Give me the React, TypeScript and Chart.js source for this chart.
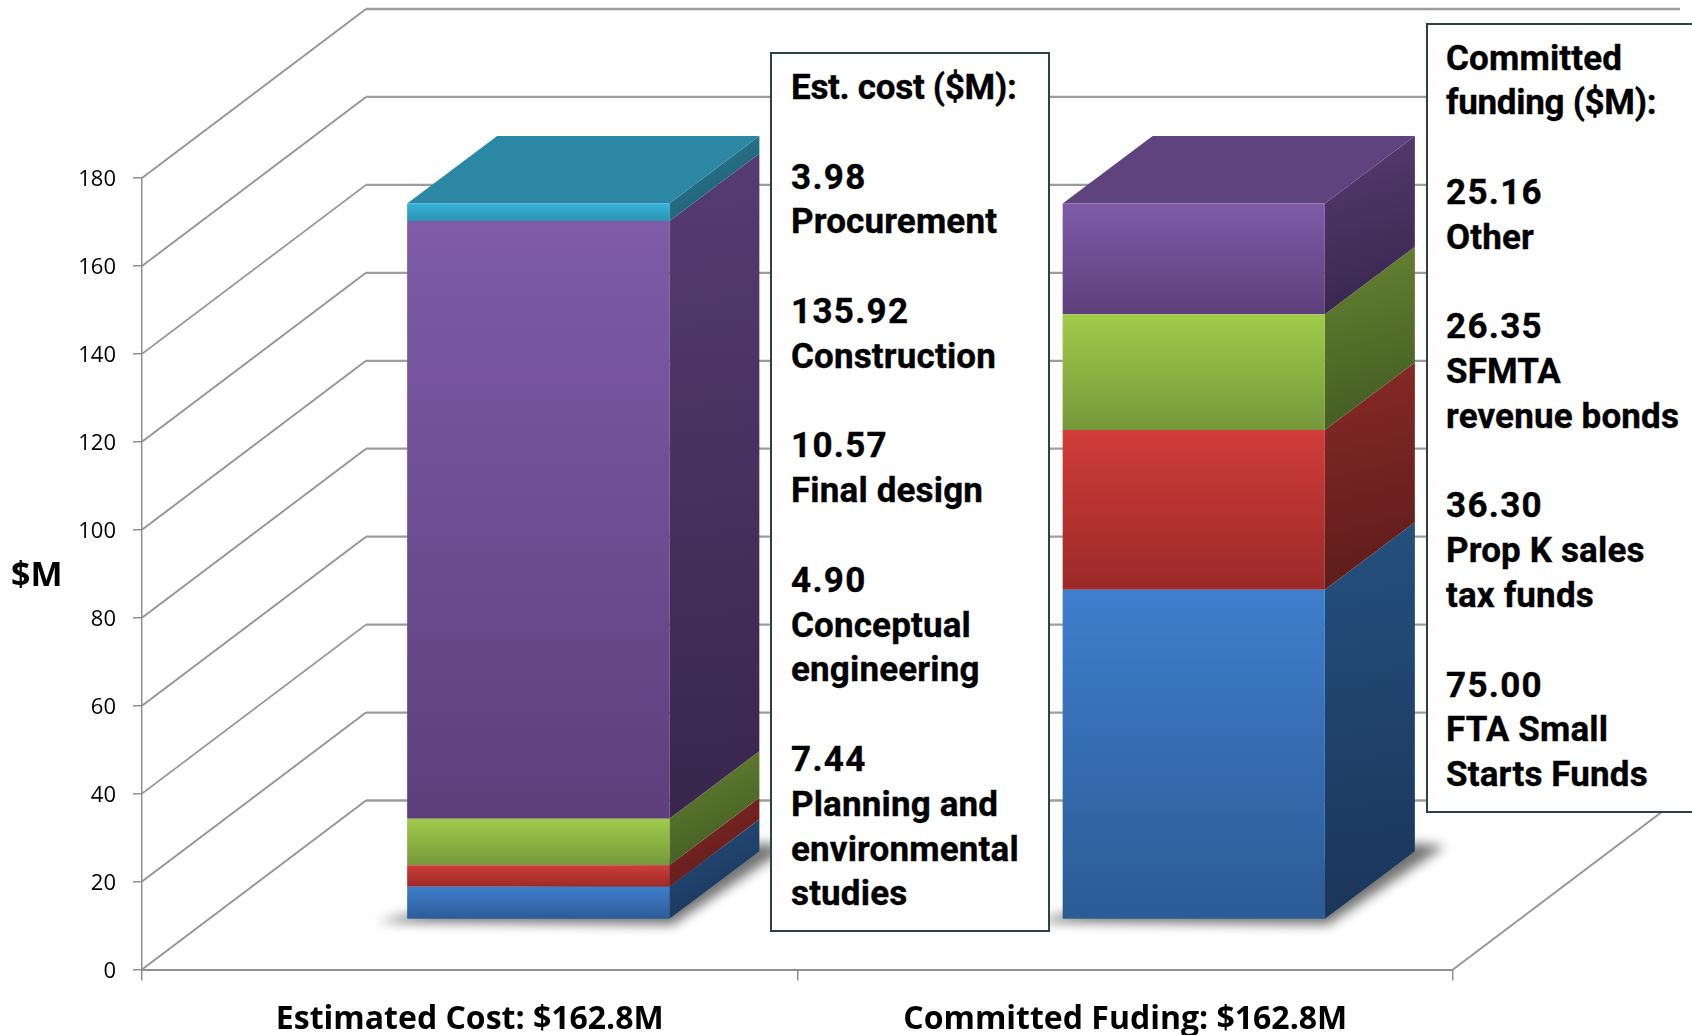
import React, { useEffect, useRef } from "react";
import { Chart, registerables } from "chart.js";

Chart.register(...registerables);

const categories = ["Estimated Cost: $162.8M", "Committed Fuding: $162.8M"];
const tickValues = [0, 20, 40, 60, 80, 100, 120, 140, 160, 180];
const yAxisLabel = "$M";

const band1Values = [7.44, 75.0];
const band2Values = [4.9, 36.3];
const band3Values = [10.57, 26.35];
const band4Values = [135.92, 25.16];
const band5Values = [3.98, 0];

const costLabels = ["Planning and\nenvironmental\nstudies", "Conceptual\nengineering", "Final design", "Construction", "Procurement"];
const fundingLabels = ["FTA Small\nStarts Funds", "Prop K sales\ntax funds", "SFMTA\nrevenue bonds", "Other"];

const bands = [band1Values, band2Values, band3Values, band4Values, band5Values];

const frontTop = ["#3e7ecd", "#d03c39", "#a0cb4a", "#7f5ba8", "#36b4d9"];
const frontBottom = ["#2c5b95", "#9b2a29", "#76983a", "#5e3f7c", "#2a93b1"];
const sideTop = ["#25507f", "#882a28", "#678432", "#553c72", "#2b7f99"];
const sideBottom = ["#1a3559", "#5c1c1a", "#425a22", "#38264c", "#1f5c70"];
const topFace = ["#2b5d95", "#a03230", "#769a3a", "#5e437e", "#2b87a3"];

const WALL = { x: 224, y: -169 };
const BAR_SHIFT = { x: 68.5, y: -50 };
const BAR_DEPTH = { x: 90, y: -67.5 };
const WALL_RIGHT = 1680;

function poly(ctx: CanvasRenderingContext2D, pts: number[][]) {
  ctx.beginPath();
  pts.forEach((p, i) => (i ? ctx.lineTo(p[0], p[1]) : ctx.moveTo(p[0], p[1])));
  ctx.closePath();
}

function grad(ctx: CanvasRenderingContext2D, x0: number, y0: number, x1: number, y1: number, a: string, b: string) {
  if (![x0, y0, x1, y1].every(Number.isFinite)) return a;
  const g = ctx.createLinearGradient(x0, y0, x1, y1);
  g.addColorStop(0, a);
  g.addColorStop(1, b);
  return g;
}

const box3d = {
  id: "box3d",
  beforeDatasetsDraw(chart: any) {
    const { ctx, scales, chartArea } = chart;
    const y = scales.y;
    const { left, right, bottom } = chartArea;
    ctx.save();
    ctx.lineCap = "butt";
    tickValues.forEach((v) => {
      const py = y.getPixelForValue(v);
      ctx.strokeStyle = "#939393";
      ctx.lineWidth = 1.8;
      ctx.beginPath();
      ctx.moveTo(left, py);
      ctx.lineTo(left + WALL.x, py + WALL.y);
      ctx.stroke();
      ctx.strokeStyle = "#9c9c9c";
      ctx.lineWidth = 2.3;
      ctx.beginPath();
      ctx.moveTo(left + WALL.x, py + WALL.y);
      ctx.lineTo(WALL_RIGHT, py + WALL.y);
      ctx.stroke();
    });
    ctx.strokeStyle = "#939393";
    ctx.lineWidth = 1.8;
    ctx.beginPath();
    ctx.moveTo(right, bottom);
    ctx.lineTo(right + WALL.x, bottom + WALL.y);
    ctx.stroke();
    ctx.restore();

    ctx.save();
    ctx.translate(BAR_SHIFT.x, BAR_SHIFT.y);
    const metas = bands.map((_, i) => chart.getDatasetMeta(i));
    categories.forEach((_, c) => {
      const first = metas[0].data[c];
      const xl = first.x - first.width / 2;
      const xr = first.x + first.width / 2;
      const y0 = first.base;
      // soft shadow on the floor
      ctx.save();
      ctx.filter = "blur(6px)";
      ctx.fillStyle = "rgba(0,0,0,0.55)";
      poly(ctx, [
        [xl - 30, y0 + 3],
        [xr + 3, y0 + 6],
        [xr + BAR_DEPTH.x + 30, y0 + BAR_DEPTH.y - 5],
        [xr + BAR_DEPTH.x, y0 + BAR_DEPTH.y - 8],
        [xl, y0 - 4],
      ]);
      ctx.fill();
      ctx.restore();

      let topIdx = 0;
      metas.forEach((m, i) => {
        const el = m.data[c];
        if (Math.abs(el.base - el.y) < 0.5) return;
        topIdx = i;
        ctx.fillStyle = grad(ctx, xr, el.y + BAR_DEPTH.y, xr + BAR_DEPTH.x * 0.6, el.base, sideTop[i], sideBottom[i]);
        poly(ctx, [
          [xr, el.y],
          [xr + BAR_DEPTH.x, el.y + BAR_DEPTH.y],
          [xr + BAR_DEPTH.x, el.base + BAR_DEPTH.y],
          [xr, el.base],
        ]);
        ctx.fill();
      });
      const t = metas[topIdx].data[c];
      ctx.fillStyle = topFace[topIdx];
      poly(ctx, [
        [xl, t.y],
        [xr, t.y],
        [xr + BAR_DEPTH.x, t.y + BAR_DEPTH.y],
        [xl + BAR_DEPTH.x, t.y + BAR_DEPTH.y],
      ]);
      ctx.fill();
    });
  },
  afterDatasetsDraw(chart: any) {
    chart.ctx.restore();
  },
  afterDraw(chart: any) {
    const { ctx, scales } = chart;
    ctx.save();
    ctx.fillStyle = "#000";
    ctx.font = "bold 34px 'Open Sans'";
    ctx.textAlign = "left";
    ctx.textBaseline = "middle";
    ctx.fillText(yAxisLabel, 11, scales.y.getPixelForValue(90) + 3);
    ctx.restore();
  },
};

function frontGradient(context: any, i: number) {
  const chart = context.chart;
  const y = chart.scales.y;
  if (!y || context.dataIndex === undefined) return frontTop[i];
  let lo = 0;
  for (let k = 0; k < i; k++) lo += bands[k][context.dataIndex];
  const hi = lo + bands[i][context.dataIndex];
  return grad(chart.ctx, 0, y.getPixelForValue(hi), 0, y.getPixelForValue(lo), frontTop[i], frontBottom[i]);
}

const noteText = {
  fontFamily: "Roboto, sans-serif",
  fontWeight: 700,
  fontSize: 35,
  lineHeight: "44.8px",
  color: "#000",
  WebkitTextStroke: "0.35px #000",
};

function costNote() {
  const rows = costLabels.map((l, i) => `${bands[i][0].toFixed(2)}\n${l}`).reverse();
  return ["Est. cost ($M):", ...rows].join("\n\n");
}

function fundingNote() {
  const rows = fundingLabels.map((l, i) => `${bands[i][1].toFixed(2)}\n${l}`).reverse();
  return ["Committed\nfunding ($M):", ...rows].join("\n\n");
}

function spacingFor(line: string) {
  if (/^\d/.test(line)) return "1.3px";
  if (line.endsWith(":")) return "-0.3px";
  return "0.15px";
}

function NoteLines({ text }: { text: string }) {
  return (
    <>
      {text.split("\n").map((line, i) => (
        <div key={i} style={{ height: 44.8, whiteSpace: "pre", letterSpacing: spacingFor(line) }}>
          {line}
        </div>
      ))}
    </>
  );
}

export default function App() {
  const ref = useRef<HTMLCanvasElement>(null);

  useEffect(() => {
    const chart = new Chart(ref.current as HTMLCanvasElement, {
      type: "bar",
      data: {
        labels: categories,
        datasets: bands.map((values, i) => ({
          label: `band ${i + 1}`,
          data: values,
          backgroundColor: (c: any) => frontGradient(c, i),
          borderWidth: 0,
          barPercentage: 0.4,
          categoryPercentage: 1,
          clip: false as any,
        })),
      },
      options: {
        responsive: false,
        animation: false,
        layout: { padding: { top: 178, right: 239, left: 0, bottom: 0 } },
        plugins: { legend: { display: false }, title: { display: false }, tooltip: { enabled: false } },
        scales: {
          x: {
            stacked: true,
            afterFit: (s: any) => {
              s.height = 65.5;
            },
            border: { color: "#8f8f8f", width: 2 },
            grid: { drawOnChartArea: false, color: "#8f8f8f", lineWidth: 1.5, tickLength: 11, offset: true },
            ticks: { color: "#000", padding: 20, maxRotation: 0, font: { family: "Open Sans", weight: "bold", size: 32 } },
          },
          y: {
            stacked: true,
            min: 0,
            max: 180,
            afterFit: (s: any) => {
              s.width = 142;
            },
            border: { color: "#8f8f8f", width: 1.5 },
            grid: { drawOnChartArea: false, color: "#8f8f8f", lineWidth: 1.5, tickLength: 9 },
            afterBuildTicks: (s: any) => {
              s.ticks = tickValues.map((value) => ({ value }));
            },
            ticks: {
              color: "#000",
              padding: 17,
              font: { family: "Open Sans", size: 22, lineHeight: "4px" },
              callback: (v: any) => ["", String(v)],
            },
          },
        },
      },
      plugins: [box3d],
    } as any);
    return () => chart.destroy();
  }, []);

  const boxBase = {
    position: "absolute" as const,
    boxSizing: "border-box" as const,
    background: "#fff",
    border: "2px solid #2c4148",
    ...noteText,
  };

  return (
    <div style={{ position: "absolute", left: 0, top: 0, width: 1692, height: 1035, overflow: "hidden", background: "#fff" }}>
      <canvas ref={ref} width={1692} height={1035} style={{ display: "block" }} />
      <div style={{ ...boxBase, left: 770, top: 52, width: 280, height: 880, padding: "12px 0 0 19px" }}>
        <NoteLines text={costNote()} />
      </div>
      <div style={{ ...boxBase, left: 1426, top: 23, width: 280, height: 790, padding: "11.5px 0 0 18px" }}>
        <NoteLines text={fundingNote()} />
      </div>
    </div>
  );
}
